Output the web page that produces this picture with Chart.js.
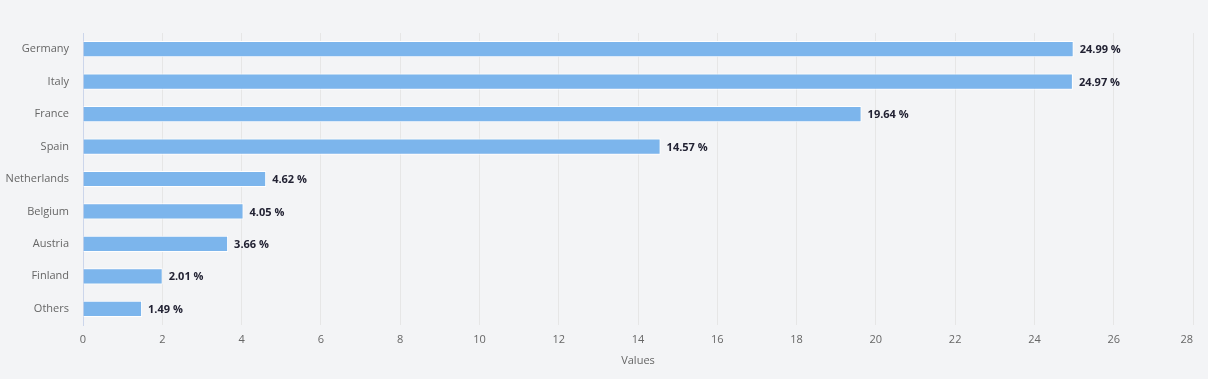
<!DOCTYPE html>
<html><head><meta charset="utf-8">
<script src="https://cdn.jsdelivr.net/npm/chart.js@4"></script>
<style>html,body{margin:0;padding:0;background:#f3f4f6;}#wrap{width:1208px;height:379px;}</style>
</head><body><div id="wrap"><canvas id="c" width="1208" height="379"></canvas></div>
<script>
const categories = ["Germany","Italy","France","Spain","Netherlands","Belgium","Austria","Finland","Others"];
const values = [24.99,24.97,19.64,14.57,4.62,4.05,3.66,2.01,1.49];
const xTicks = [0,2,4,6,8,10,12,14,16,18,20,22,24,26,28];
const FONT = "'Open Sans', sans-serif";
const LAST = xTicks[xTicks.length - 1];
const TICK_PAD = 8;

const labelPlugin = {
  id: 'valLabels',
  afterDraw(chart) {
    const ctx = chart.ctx;
    const meta = chart.getDatasetMeta(0);
    ctx.save();
    ctx.font = "bold 11px " + FONT;
    ctx.fillStyle = "#222233";
    ctx.textBaseline = "middle";
    ctx.textAlign = "left";
    meta.data.forEach((bar, i) => {
      ctx.fillText(values[i].toFixed(2) + " %", bar.x + 6, bar.y + 1);
    });
    // last x tick label justified inside the chart (right-aligned to its gridline)
    const xs = chart.scales.x;
    ctx.font = "11px " + FONT;
    ctx.fillStyle = "#666666";
    ctx.textAlign = "right";
    ctx.fillText(String(LAST), xs.getPixelForValue(LAST), xs.top + TICK_PAD + 6.6);
    ctx.restore();
  }
};

new Chart(document.getElementById('c'), {
  type: 'bar',
  data: {
    labels: categories,
    datasets: [{
      data: values,
      backgroundColor: '#7cb5ec',
      borderColor: '#ffffff',
      borderWidth: 1,
      borderSkipped: 'left',
      barPercentage: 0.5,
      categoryPercentage: 1.0
    }]
  },
  options: {
    indexAxis: 'y',
    responsive: false,
    animation: false,
    layout: { padding: { top: 33, right: 15, bottom: 0, left: 0 } },
    plugins: { legend: { display: false }, tooltip: { enabled: false } },
    scales: {
      x: {
        min: 0, max: 28,
        afterBuildTicks(scale) { scale.ticks = xTicks.map(v => ({ value: v })); },
        grid: { color: '#e6e6e6', drawTicks: false },
        border: { display: false },
        ticks: {
          color: '#666666', font: { family: FONT, size: 11 }, padding: TICK_PAD,
          callback: (v) => (v === LAST ? '' : String(v))
        },
        title: { display: true, text: 'Values', color: '#666666', font: { family: FONT, size: 11 }, padding: { top: 4, bottom: 12 } },
        afterFit(scale) { scale.height = 54; }
      },
      y: {
        grid: { display: false, drawTicks: false },
        border: { display: true, color: '#ccd6eb', width: 1 },
        ticks: { color: '#666666', font: { family: FONT, size: 11 }, padding: 14 },
        afterFit(scale) { scale.width = 83; }
      }
    }
  },
  plugins: [labelPlugin]
});
</script>
</body></html>
